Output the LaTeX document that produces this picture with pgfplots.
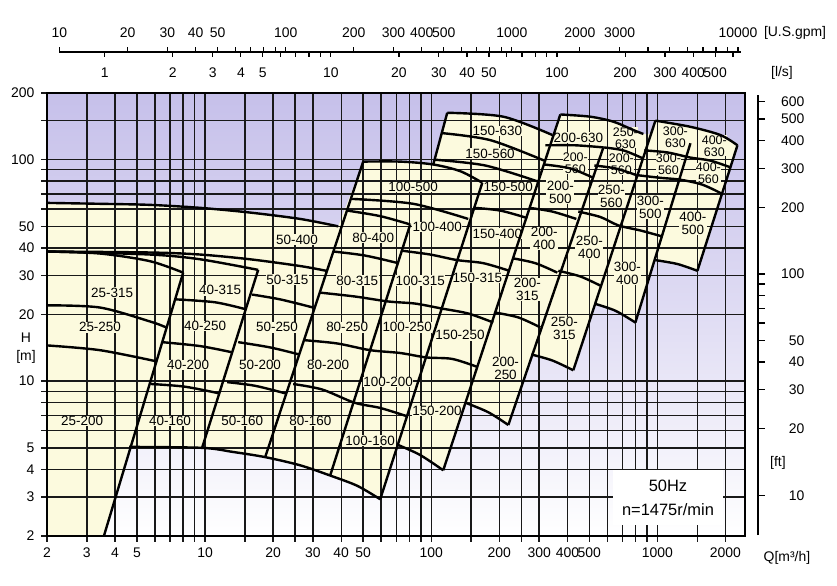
\documentclass[border=0pt]{standalone}
\usepackage{fontspec}
\setmainfont{Liberation Sans}
\usepackage{pgfplots}
\pgfplotsset{compat=1.18}
\definecolor{lav}{RGB}{198,192,234}
\definecolor{pyel}{RGB}{252,250,222}
\pgfplotsset{pump/.style={black, line width=2.4bp, smooth, tension=0.5}}
\tikzset{lbl/.style={fill=pyel, inner sep=0.4bp, align=center, font=\fontsize{13.5}{13}\selectfont},
  lbs/.style={fill=pyel, inner sep=0bp, align=center, font=\fontsize{12.5}{12}\selectfont}}
\newcommand{\pl}[3]{\node[lbl] at (axis cs:#1,#2) {#3};}
\newcommand{\ps}[3]{\node[lbs] at (axis cs:#1,#2) {#3};}
\begin{document}
\begin{tikzpicture}[font=\fontsize{14}{16}\selectfont]
% background shading and the yellow area of all pump types
\begin{axis}[at={(0,0)}, anchor=south west, scale only axis, width=698bp, height=443bp,
  xmode=log, ymode=log, xmin=2, xmax=2440, ymin=2, ymax=200,
  ticks=none, axis line style={draw=none},
  axis background/.style={shade, top color=lav, bottom color=white, middle color=lav!55!white}]
\addplot[fill=pyel, draw=none] coordinates {
(2,2) (2,63.8) (3.43,63.2) (5.71,62.5) (9.51,60.6) (15.82,57.7) (26.33,54.0) (38.79,50)
(50.02,98) (72.92,98) (102.1,95.1) (117.7,162.8) (208.3,156.3) (343.1,129.2) (372.3,160)
(505.2,156.3) (638.8,148.4) (783.3,136) (867,130.6) (940.9,130.6) (979.9,150) (1400,140.7) (1899,129.2)
(2259,116.1) (1503,31.5) (1226,33.8) (979.9,35.2) (799.3,18.4) (651.8,20.8) (526.2,22.4)
(424.8,11.2) (343.1,12.4) (277,13.2) (219.2,6.34) (178.8,7.24) (141.4,8.0) (113.0,3.96)
(89.39,4.64) (71.45,5.15) (59.48,2.93) (47.07,3.37) (35.74,3.75) (26.33,4.17) (18.44,4.54)
(13.31,4.79) (9.70,5.0) (4.61,5.05) (3.57,2)};
\end{axis}
\begin{axis}[at={(0,0)}, anchor=south west, scale only axis, width=698bp, height=443bp,
  xmode=log, ymode=log, xmin=2, xmax=2440, ymin=2, ymax=200,
  clip=false,
  xtick={2,3,4,5,6,7,8,9,10,15,20,25,30,40,50,60,70,80,90,100,150,200,250,300,400,500,600,700,800,900,1000,1500,2000},
  xticklabels={2,3,4,5,,,,,10,,20,,30,40,50,,,,,100,,200,,300,400,500,,,,,1000,,2000},
  ytick={2,3,4,5,6,7,8,9,10,20,30,40,50,60,70,80,90,100,150,200},
  yticklabels={2,3,4,5,,,,,10,20,30,40,50,,,,,100,,200},
  xminorticks=false, yminorticks=false,
  grid=major, major grid style={black!90, line width=1.4bp},
  tick align=outside, xtick pos=bottom, ytick pos=left, major tick length=6bp,
  tick style={black!90, line width=1.4bp},
  axis line style={black, line width=1.4bp},
  xticklabel style={yshift=-2bp},
  yticklabel style={xshift=-3bp},
]
% pump labels
\pl{3.88}{25.1}{25-315} \pl{3.43}{17.5}{25-250} \pl{2.86}{6.63}{25-200}
\pl{11.66}{25.7}{40-315} \pl{10}{17.7}{40-250} \pl{8.41}{11.8}{40-200} \pl{7.0}{6.63}{40-160}
\pl{25.5}{43.6}{50-400} \pl{23.1}{28.8}{50-315} \pl{20.8}{17.5}{50-250} \pl{17.5}{11.8}{50-200} \pl{14.6}{6.63}{50-160}
\pl{55.4}{44.5}{80-400} \pl{47.1}{28.5}{80-315} \pl{42.5}{17.5}{80-250} \pl{35.0}{11.8}{80-200} \pl{29.2}{6.63}{80-160}
\pl{83.2}{75.4}{100-500} \pl{106.3}{49.5}{100-400} \pl{89.4}{28.5}{100-315} \pl{78.3}{17.5}{100-250} \pl{64.5}{9.9}{100-200} \pl{53.7}{5.40}{100-160}
\pl{196}{135}{150-630} \pl{182}{106.6}{150-560} \pl{219}{75.4}{150-500} \pl{196}{46.4}{150-400} \pl{160}{29.4}{150-315} \pl{134}{16.1}{150-250} \pl{106}{7.32}{150-200}
\pl{447}{126}{200-630} \ps{433.7}{96.1}{200-\\560} \pl{372.3}{71.5}{200-\\500} \pl{316}{44.0}{200-\\400} \pl{266}{25.9}{200-\\315} \pl{213}{11.4}{200-\\250}
\ps{722}{125.5}{250-\\630} \ps{693}{95.1}{200-\\560} \pl{626}{68.6}{250-\\560} \pl{500}{40}{250-\\400} \pl{388}{17.3}{250-\\315}
\ps{1201}{126.5}{300-\\630} \ps{1119}{95.1}{300-\\560} \pl{931}{61.2}{300-\\500} \pl{737}{30.6}{300-\\400}
\ps{1786}{115.5}{400-\\630} \ps{1681}{86.5}{400-\\560} \pl{1436}{51.4}{400-\\500}

% column boundaries
\addplot[pump] coordinates {(8.0,30.9) (3.57,2)};
\addplot[pump] coordinates {(17.17,31.8) (9.70,5.0)};
\addplot[pump] coordinates {(50.02,98.0) (18.44,4.54)};
\addplot[pump] coordinates {(80.72,51.0) (35.74,3.75)};
\addplot[pump] coordinates {(168.2,78.7) (59.48,2.93)};
\addplot[pump] coordinates {(102.1,95.1) (117.7,162.8)};
\addplot[pump] coordinates {(372.3,160) (113.0,3.96)};
\addplot[pump] coordinates {(577,113.6) (219.2,6.34)};
\addplot[pump] coordinates {(979.9,150) (424.8,11.2)};
\addplot[pump] coordinates {(1400,118.6) (799.3,18.4)};
\addplot[pump] coordinates {(2259,116.1) (1503,31.5)};

% top and bottom edges
\addplot[pump] coordinates {(2,38.5) (3.43,37.7) (5.71,34.8) (8.0,30.9)};
\addplot[pump] coordinates {(2,38.5) (5.71,37.3) (9.51,35.5) (17.17,31.8)};
\addplot[pump] coordinates {(2,38.5) (5.71,38.1) (9.51,37.3) (15.82,35.5) (26.33,33.1) (34.31,31.5)};
\addplot[pump] coordinates {(2,63.8) (3.43,63.2) (5.71,62.5) (9.51,60.6) (15.82,57.7) (26.33,54.0) (38.79,50)};
\addplot[pump] coordinates {(4.61,5.05) (9.70,5.0) (13.31,4.79) (18.44,4.54) (26.33,4.17) (35.74,3.75) (47.07,3.37) (59.48,2.93)};
\addplot[pump] coordinates {(50.02,98) (72.92,98) (102.1,95.1) (134.4,88.7) (168.2,78.7)};
\addplot[pump] coordinates {(117.7,162.8) (208.3,156.3) (343.1,129.2)};
\addplot[pump] coordinates {(372.3,160) (505.2,156.3) (638.8,148.4) (783.3,136) (867,130.6)};
\addplot[pump] coordinates {(979.9,150) (1400,140.7) (1899,129.2) (2259,116.1)};
\addplot[pump] coordinates {(71.45,5.15) (89.39,4.64) (113.0,3.96)};
\addplot[pump] coordinates {(141.4,8.0) (178.8,7.24) (219.2,6.34)};
\addplot[pump] coordinates {(277,13.2) (343.1,12.4) (424.8,11.2)};
\addplot[pump] coordinates {(526.2,22.4) (651.8,20.8) (799.3,18.4)};
\addplot[pump] coordinates {(979.9,35.2) (1226,33.8) (1503,31.5)};

% impeller rows
\addplot[pump] coordinates {(2,22.0) (3.43,21.5) (5.71,18.6) (6.72,17.5)};
\addplot[pump] coordinates {(2,14.5) (3.43,13.8) (6.07,12.3)};
\addplot[pump] coordinates {(7.44,23.4) (11.08,22.7) (15.19,21.1)};
\addplot[pump] coordinates {(6.46,15.0) (9.51,14.4) (13.17,13.5)};
\addplot[pump] coordinates {(5.77,9.71) (8.16,9.44) (11.66,8.79)};
\addplot[pump] coordinates {(16.15,24.6) (21.48,23.4) (30.06,21.5)};
\addplot[pump] coordinates {(14.01,15.0) (19.41,14.2) (26.07,13.2)};
\addplot[pump] coordinates {(12.52,9.90) (16.65,9.53) (22.84,8.79)};
\addplot[pump] coordinates {(44.73,66.5) (83.22,63.2) (145.8,54.0)};
\addplot[pump] coordinates {(42.51,58.9) (59.48,55.6) (80.72,51.0)};
\addplot[pump] coordinates {(36.86,38.5) (51.05,36.9) (71.45,34.1)};
\addplot[pump] coordinates {(74.41,38.8) (98.99,37.3) (130.3,35.2) (169.9,34.1) (221.4,31.5)};
\addplot[pump] coordinates {(32.28,25.1) (46.12,24.1) (64.52,22.9) (84.94,22.4) (110.7,21.3) (145.8,20.2) (188.1,18.4)};
\addplot[pump] coordinates {(27.71,15.3) (38.39,14.8) (53.72,13.8) (72.92,13.4) (95.03,12.8) (123.9,12.6) (159.8,11.6)};
\addplot[pump] coordinates {(24.52,9.71) (32.94,9.17) (45.65,8.0) (59.48,7.57) (78.30,6.94)};
\addplot[pump] coordinates {(110.7,131.9) (182.4,122.5) (316.2,99.0)};
\addplot[pump] coordinates {(103.1,100) (173.4,94.1) (297.5,79.6)};
\addplot[pump] coordinates {(155.0,60.6) (202,58.9) (265.9,54.5)};
\addplot[pump] coordinates {(319.5,116.1) (433.7,116.1) (577,113.6)};
\addplot[pump] coordinates {(316.2,95.1) (412,91.3) (521,82.8)};
\addplot[pump] coordinates {(271.4,60.6) (343.1,58.3) (438.0,54.0)};
\addplot[pump] coordinates {(228.3,35.9) (288.5,34.1) (361.1,30.9)};
\addplot[pump] coordinates {(192.0,20.4) (242.7,19.4) (303.6,17.5)};
\addplot[pump] coordinates {(577,113.6) (707.3,110.1) (867,101.1)};
\addplot[pump] coordinates {(526.2,94.1) (651.8,91.3) (807.4,85.2)};
\addplot[pump] coordinates {(447,58.3) (559.5,55.1) (672,50.5) (841,47.9) (1052,45.0)};
\addplot[pump] coordinates {(364.8,31.5) (456.3,29.7) (559.5,27.0)};
\addplot[pump] coordinates {(876.1,110.1) (1107,107.8) (1400,102.2) (1716,99.0) (2104,92.3)};
\addplot[pump] coordinates {(807.4,85.2) (1031,82.8) (1264,81.2) (1582,77.1) (1940,70)};

% speed box
\node[fill=white, minimum width=110bp, minimum height=55bp, align=center,
  font=\fontsize{16.5}{24}\selectfont] at (axis cs:1114,2.984) {50Hz\\n=1475r/min};

% top scales: U.S.gpm above, l/s below
\draw[line width=1.3bp] (axis cs:2.271,306.2) -- (axis cs:2350,306.2);
\pgfplotsinvokeforeach{2.271,4.542,6.813,9.084,11.355,13.626,15.897,18.168,20.439,22.71,45.42,68.13,90.84,113.55,136.26,158.97,181.68,204.39,227.1,454.2,681.3,908.4,1135.5,1362.6,1589.7,1816.8,2043.9,2271}{
  \draw[line width=1.2bp] (axis cs:#1,306.2) -- (axis cs:#1,322.6);}
\pgfplotsinvokeforeach{3.6,7.2,10.8,14.4,18,21.6,25.2,28.8,32.4,36,72,108,144,180,216,252,288,324,360,720,1080,1440,1800,2160}{
  \draw[line width=1.2bp] (axis cs:#1,306.2) -- (axis cs:#1,290.8);}
\node at (axis cs:2.271,373.3) {10}; \node at (axis cs:4.542,373.3) {20};
\node at (axis cs:6.813,373.3) {30}; \node at (axis cs:9.084,373.3) {40};
\node at (axis cs:11.355,373.3) {50}; \node at (axis cs:22.71,373.3) {100};
\node at (axis cs:45.42,373.3) {200}; \node at (axis cs:68.13,373.3) {300};
\node at (axis cs:90.84,373.3) {400}; \node at (axis cs:113.55,373.3) {500};
\node at (axis cs:227.1,373.3) {1000}; \node at (axis cs:454.2,373.3) {2000};
\node at (axis cs:681.3,373.3) {3000}; \node at (axis cs:2271,373.3) {10000};
\node at (axis cs:4060,373.3) {{[U.S.gpm]}};
\node at (axis cs:3.6,246.3) {1}; \node at (axis cs:7.2,246.3) {2};
\node at (axis cs:10.8,246.3) {3}; \node at (axis cs:14.4,246.3) {4};
\node at (axis cs:18,246.3) {5}; \node at (axis cs:36,246.3) {10};
\node at (axis cs:72,246.3) {20}; \node at (axis cs:108,246.3) {30};
\node at (axis cs:144,246.3) {40}; \node at (axis cs:180,246.3) {50};
\node at (axis cs:360,246.3) {100}; \node at (axis cs:720,246.3) {200};
\node at (axis cs:1080,246.3) {300}; \node at (axis cs:1440,246.3) {400};
\node at (axis cs:1800,246.3) {500};
\node at (axis cs:3556,246.3) {{[l/s]}};

% right scale in ft
\draw[line width=2.5bp] (axis cs:2785,2.02) -- (axis cs:2785,195.9);
\pgfplotsinvokeforeach{3.048,6.096,9.144,12.192,15.24,18.288,21.336,24.384,27.432,30.48,60.96,91.44,121.92,152.4,182.88}{
  \draw[line width=1.3bp] (axis cs:2785,#1) -- (axis cs:2990,#1);}
\node[anchor=east] at (axis cs:4634,3.048) {10};
\node[anchor=east] at (axis cs:4634,6.096) {20};
\node[anchor=east] at (axis cs:4634,9.144) {30};
\node[anchor=east] at (axis cs:4634,12.192) {40};
\node[anchor=east] at (axis cs:4634,15.24) {50};
\node[anchor=east] at (axis cs:4634,30.48) {100};
\node[anchor=east] at (axis cs:4634,60.96) {200};
\node[anchor=east] at (axis cs:4634,91.44) {300};
\node[anchor=east] at (axis cs:4634,121.92) {400};
\node[anchor=east] at (axis cs:4634,152.4) {500};
\node[anchor=east] at (axis cs:4634,182.88) {600};
\node at (axis cs:3414,4.26) {{[ft]}};

% axis titles
\node at (axis cs:3742,1.591) {Q[m³/h]};
\node[align=center, font=\fontsize{14}{18}\selectfont] at (axis cs:1.615,14.13) {H\\{[m]}};
\end{axis}
\path (-47bp,-50bp) rectangle (790bp,536bp);
\end{tikzpicture}
\end{document}
